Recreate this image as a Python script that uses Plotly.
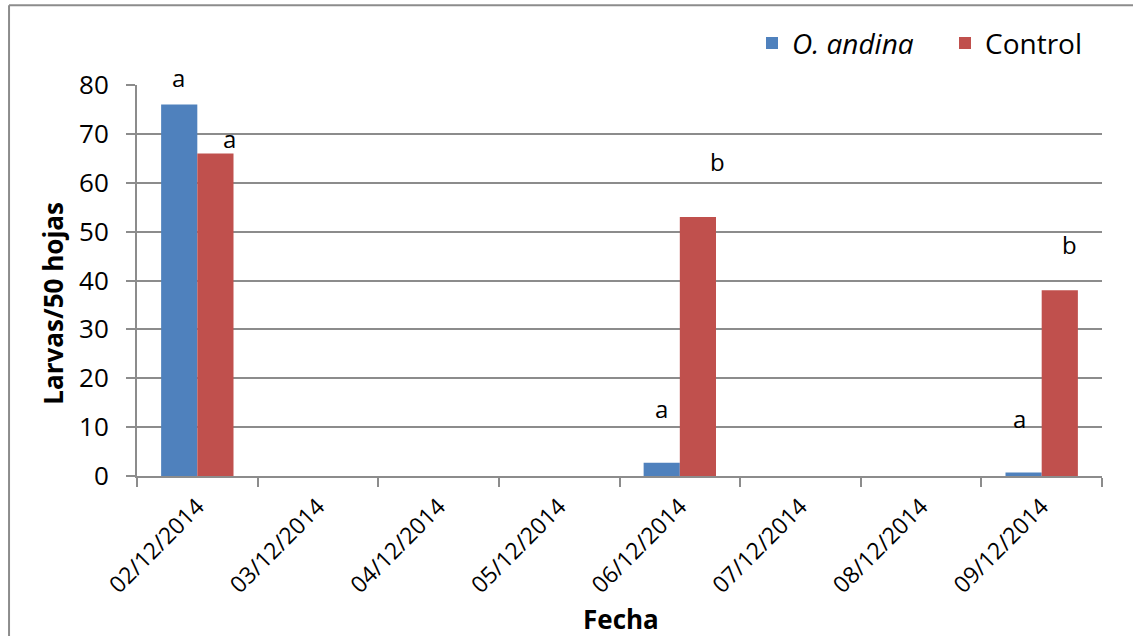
import plotly.graph_objects as go

# ---- data ----
fechas = ["02/12/2014", "03/12/2014", "04/12/2014", "05/12/2014",
          "06/12/2014", "07/12/2014", "08/12/2014", "09/12/2014"]
andina = [76, 0, 0, 0, 2.7, 0, 0, 0.7]
control = [66, 0, 0, 0, 53, 0, 0, 38]
y_ticks = [0, 10, 20, 30, 40, 50, 60, 70, 80]

# significance letters (text, category, value-level where the letter sits)
andina_letters = ["a", "a", "a"]
andina_letter_cats = ["02/12/2014", "06/12/2014", "09/12/2014"]
andina_letter_y = [81.6, 13.9, 11.7]
control_letters = ["a", "b", "b"]
control_letter_cats = ["02/12/2014", "06/12/2014", "09/12/2014"]
control_letter_y = [69.1, 64.3, 47.3]

# ---- style ----
FONT = "Open Sans"
BLUE = "#4F81BD"
RED = "#C0504D"
GRAY = "#8C8C8C"
YMAX = 80
PX_PER_UNIT = 390 / YMAX
andina_shift = [-1, 0, -4]
control_shift = [14, 20, 10]

fig = go.Figure()
fig.add_trace(go.Bar(x=fechas, y=andina, name="<i>O. andina</i>",
                     marker=dict(color=BLUE, line=dict(width=0))))
fig.add_trace(go.Bar(x=fechas, y=control, name="Control",
                     marker=dict(color=RED, line=dict(width=0))))


def letter(t, c, yv, xs):
    yy = min(yv, YMAX)
    return dict(x=c, y=yy, xref="x", yref="y", text=t, showarrow=False,
                xshift=xs, yshift=(yv - yy) * PX_PER_UNIT, yanchor="middle",
                font=dict(family=FONT, size=24, color="black"))


annotations = []
for t, c, yv, s in zip(andina_letters, andina_letter_cats, andina_letter_y, andina_shift):
    annotations.append(letter(t, c, yv, s - 18))
for t, c, yv, s in zip(control_letters, control_letter_cats, control_letter_y, control_shift):
    annotations.append(letter(t, c, yv, s + 18))

annotations.append(dict(x=-0.088, y=0.441, xref="paper", yref="paper",
                        text="<b>Larvas/50 hojas</b>", textangle=-90, showarrow=False,
                        xanchor="center", yanchor="middle",
                        font=dict(family=FONT, size=26, color="black")))
annotations.append(dict(x=0.5016, y=-0.365, xref="paper", yref="paper",
                        text="<b>Fecha</b>", showarrow=False,
                        xanchor="center", yanchor="middle",
                        font=dict(family=FONT, size=26, color="black")))

BX0, BY1 = -0.1326, 1.2038
fig.update_layout(
    width=1133, height=636,
    margin=dict(l=137, r=31, t=85, b=160, pad=0, autoexpand=False),
    paper_bgcolor="white", plot_bgcolor="white",
    barmode="group", bargap=0.4, bargroupgap=0,
    font=dict(family=FONT, color="black"),
    showlegend=True,
    legend=dict(orientation="h", x=(752 - 137) / 965, xanchor="left",
                y=(475.5 - 44) / 390, yanchor="middle",
                entrywidth=148, entrywidthmode="pixels",
                font=dict(family=FONT, size=28, color="black"),
                bgcolor="rgba(0,0,0,0)", borderwidth=0, itemclick=False),
    annotations=annotations,
    shapes=[
        dict(type="line", xref="paper", yref="paper", x0=BX0, x1=BX0, y0=-0.5, y1=BY1,
             line=dict(color=GRAY, width=2), layer="below"),
        dict(type="line", xref="paper", yref="paper", x0=BX0, x1=1.1, y0=BY1, y1=BY1,
             line=dict(color=GRAY, width=2), layer="below"),
    ],
)

fig.update_xaxes(
    type="category", showgrid=False, showline=True, linecolor=GRAY, linewidth=2,
    ticks="outside", tickson="boundaries", ticklen=9, tickwidth=2, tickcolor=GRAY,
    tickangle=-45, tickfont=dict(family=FONT, size=23, color="black"),
    ticklabelstandoff=6, automargin=False,
)
fig.update_yaxes(
    range=[0, YMAX], tickvals=y_ticks, showgrid=True, gridcolor=GRAY, gridwidth=2,
    showline=True, linecolor=GRAY, linewidth=2, zeroline=False,
    ticks="outside", ticklen=9, tickwidth=2, tickcolor=GRAY,
    tickfont=dict(family=FONT, size=26, color="black"), ticklabelstandoff=12,
    automargin=False,
)

fig.write_html("out.html", config={"displayModeBar": False},
               post_script="document.body.style.margin='0px';"
                           "document.body.style.overflow='hidden';")
